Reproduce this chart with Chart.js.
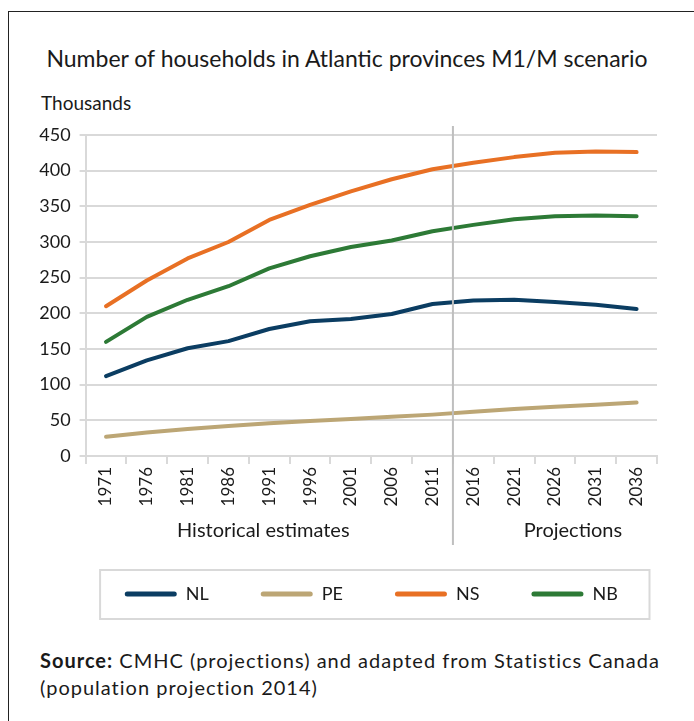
<!DOCTYPE html>
<html>
<head>
<meta charset="utf-8">
<script src="https://cdn.jsdelivr.net/npm/chart.js@4"></script>
<style>
  html, body { margin: 0; padding: 0; background: #fff; overflow: hidden; }
  body { width: 694px; height: 721px; position: relative; font-family: Lato, "Open Sans", sans-serif; color: #1a1a1a; }
  .frame { position: absolute; left: 8px; top: 11px; width: 800px; height: 800px; border-top: 1.5px solid #222; border-left: 1.5px solid #222; }
  #title { position: absolute; left: 0; width: 694px; top: 44px; text-align: center; font-size: 23px; }
  #unit { position: absolute; left: 41px; top: 91px; font-size: 19px; }
  #source { position: absolute; left: 40px; top: 647px; font-size: 20px; line-height: 27px; letter-spacing: 1px; }
  #chartBox { position: absolute; left: 0; top: 0; width: 694px; height: 640px; }
</style>
</head>
<body>
<div class="frame"></div>
<div id="title">Number of households in Atlantic provinces M1/M scenario</div>
<div id="unit">Thousands</div>
<div id="chartBox"><canvas id="households"></canvas></div>
<div id="source"><b>Source:</b> CMHC (projections) and adapted from Statistics Canada<br>(population projection 2014)</div>
<script>
// Census years and projection years
const years = ['1971', '1976', '1981', '1986', '1991', '1996', '2001', '2006', '2011',
               '2016', '2021', '2026', '2031', '2036'];

// Households, thousands
const nl = [112, 134, 151, 161, 178, 189, 192, 199, 213, 218, 219, 216, 212, 206];
const pe = [27, 33, 38, 42, 46, 49, 52, 55, 58, 62, 66, 69, 72, 75];
const ns = [210, 246, 277, 300, 331, 352, 371, 388, 402, 411, 419, 425, 427, 426];
const nb = [160, 195, 219, 238, 263, 280, 293, 302, 315, 324, 332, 336, 337, 336];

const yTicks = [0, 50, 100, 150, 200, 250, 300, 350, 400, 450];

const GRID = '#d9d9d9';
const FAMILY = 'Lato, "Open Sans", sans-serif';

function series(label, values, color) {
    return {
        label: label,
        data: values,
        borderColor: color,
        backgroundColor: color,
        borderWidth: 4,
        pointRadius: 0,
        tension: 0,
        borderCapStyle: 'round',
        borderJoinStyle: 'round'
    };
}

// divider between estimates and projections, plus the legend frame
const periodPlugin = {
    id: 'periods',
    afterLayout(chart) {
        // centre the legend row under the plot instead of the whole canvas
        const area = chart.chartArea;
        chart.legend.left = area.left - 40;
        chart.legend.right = area.right + 40;
    },
    afterDraw(chart) {
        const ctx = chart.ctx;
        const x = chart.scales.x;
        const area = chart.chartArea;
        const split = (x.getPixelForValue(8) + x.getPixelForValue(9)) / 2;

        ctx.save();
        ctx.strokeStyle = '#bfbfbf';
        ctx.lineWidth = 2;
        ctx.beginPath();
        ctx.moveTo(split, area.top - 9);
        ctx.lineTo(split, 545);
        ctx.stroke();

        ctx.fillStyle = '#1a1a1a';
        ctx.font = '20px ' + FAMILY;
        ctx.textAlign = 'center';
        ctx.textBaseline = 'middle';
        ctx.fillText('Historical estimates', (area.left + split) / 2 - 6, 531);
        ctx.fillText('Projections', split + 120, 531);

        const boxes = chart.legend.legendHitBoxes;
        const cy = boxes[0].top + boxes[0].height / 2;
        ctx.strokeStyle = GRID;
        ctx.lineWidth = 2;
        ctx.strokeRect(area.left + 14.5, cy - 24, area.right - area.left - 22, 49);
        ctx.restore();
    }
};

new Chart(document.getElementById('households'), {
    type: 'line',
    data: {
        labels: years,
        datasets: [
            series('NL', nl, '#0b3d62'),
            series('PE', pe, '#bca675'),
            series('NS', ns, '#e87024'),
            series('NB', nb, '#2d7a36')
        ]
    },
    options: {
        responsive: true,
        maintainAspectRatio: false,
        animation: false,
        layout: { padding: { top: 135, right: 37, bottom: 27, left: 0 } },
        plugins: {
            title: { display: false },
            tooltip: { enabled: false },
            legend: {
                position: 'bottom',
                labels: {
                    color: '#1a1a1a',
                    font: { family: FAMILY, size: 18 },
                    boxWidth: 52,
                    boxHeight: 5,
                    padding: 52,
                    generateLabels(chart) {
                        return chart.data.datasets.map((ds, i) => ({
                            text: ds.label,
                            fillStyle: ds.borderColor,
                            strokeStyle: ds.borderColor,
                            lineWidth: 0,
                            borderRadius: 2.5,
                            fontColor: '#1a1a1a',
                            datasetIndex: i
                        }));
                    }
                }
            }
        },
        scales: {
            x: {
                offset: true,
                afterFit(scale) { scale.height = 77; },
                grid: {
                    offset: true,
                    drawOnChartArea: false,
                    color: GRID,
                    lineWidth: 2,
                    tickLength: 8
                },
                border: { color: GRID, width: 2 },
                ticks: {
                    color: '#1a1a1a',
                    font: { family: FAMILY, size: 17 },
                    minRotation: 90,
                    maxRotation: 90,
                    padding: 3,
                    autoSkip: false
                }
            },
            y: {
                min: 0,
                max: 450,
                afterFit(scale) { scale.width = 85.6; },
                afterBuildTicks(scale) { scale.ticks = yTicks.map(v => ({ value: v })); },
                grid: { color: GRID, lineWidth: 2, tickLength: 6 },
                border: { color: GRID, width: 2 },
                ticks: { color: '#1a1a1a', font: { family: FAMILY, size: 18 }, padding: 9 }
            }
        }
    },
    plugins: [periodPlugin]
});
</script>
</body>
</html>
